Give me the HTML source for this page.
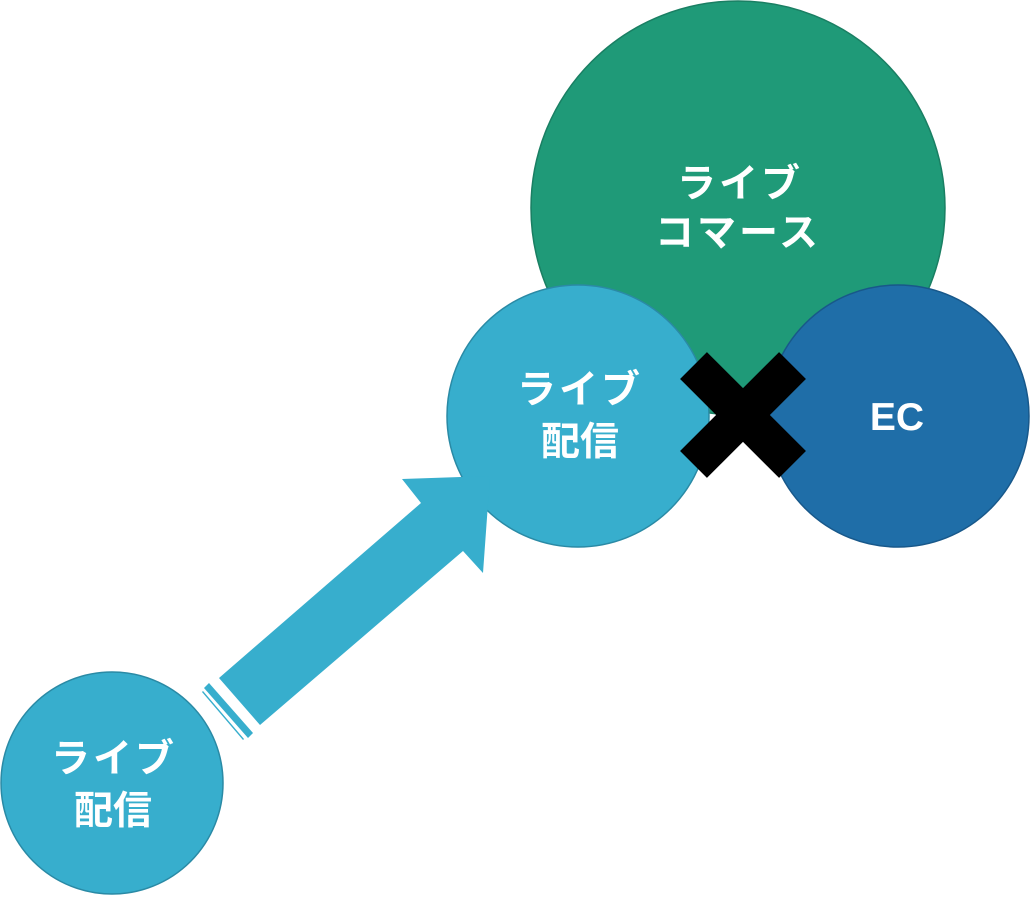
<!DOCTYPE html>
<html><head><meta charset="utf-8"><style>
html,body{margin:0;padding:0;background:#fff;}
svg{display:block}
text{font-family:"Liberation Sans","Noto Sans CJK JP",sans-serif;font-weight:bold;fill:#fff;text-anchor:middle;font-size:39px}
</style></head><body>
<svg width="1031" height="897" viewBox="0 0 1031 897" xmlns="http://www.w3.org/2000/svg">
<circle cx="738" cy="208" r="207" fill="#1f9a78" stroke="#1a7f63" stroke-width="1.5"/>
<circle cx="578" cy="416" r="131" fill="#37aecd" stroke="#2a8aa5" stroke-width="1.5"/>
<circle cx="898" cy="416" r="131" fill="#1f6ea8" stroke="#18588a" stroke-width="1.5"/>
<circle cx="112" cy="783" r="111" fill="#37aecd" stroke="#2a8aa5" stroke-width="1.5"/>
<polygon points="219,678 421,503 402,479 490,476 483,573 463,551 260,725" fill="#37aecd"/>
<polygon points="209,683 253,733 248,738 204,688" fill="#37aecd"/>
<polygon points="203,691 244,739 243,740 202,692" fill="#37aecd"/>
<g transform="translate(743,415)">
<rect x="-70" y="-19" width="140" height="38" fill="#000" transform="rotate(45)"/>
<rect x="-70" y="-19" width="140" height="38" fill="#000" transform="rotate(-45)"/>
</g>
<text x="740" y="197" letter-spacing="3">ライブ</text>
<text x="738" y="246" letter-spacing="3">コマース</text>
<text x="580" y="403" letter-spacing="3">ライブ</text>
<text x="580" y="455">配信</text>
<text x="897" y="430" font-size="37">EC</text>
<text x="114" y="772" letter-spacing="3">ライブ</text>
<text x="113" y="824">配信</text>
</svg>
</body></html>
